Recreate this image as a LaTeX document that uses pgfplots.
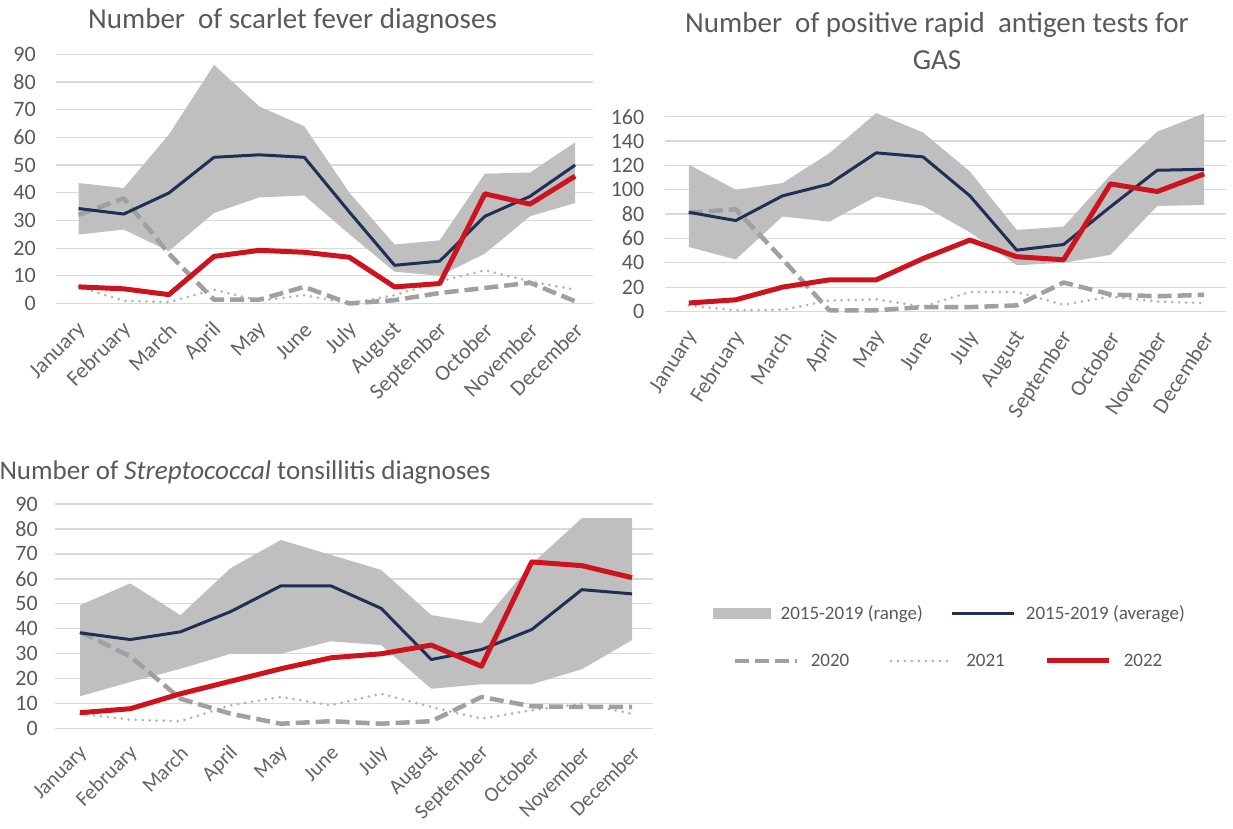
\documentclass[border=0pt]{standalone}
\usepackage{pgfplots}
\pgfplotsset{compat=1.18}
\usepackage{pgfplotstable}
\usepgfplotslibrary{fillbetween}
\usepackage{fontspec}
\setmainfont{Carlito}

\definecolor{rangegray}{RGB}{191,191,191}
\definecolor{navy}{RGB}{31,48,84}
\definecolor{redl}{RGB}{205,20,30}
\definecolor{dashgray}{RGB}{160,160,160}
\definecolor{dotgray}{RGB}{180,180,180}
\definecolor{gridgray}{RGB}{217,217,217}
\definecolor{txt}{RGB}{89,89,89}
\definecolor{lbl}{RGB}{100,100,100}

% m = month index (0 = January)
\pgfplotstableread{
m up lo avg a b c
0 43.5 24.9 34.3 32 6 6
1 41.7 26.7 32.3 38 1 5.3
2 61 18.9 39.9 18 0.5 3.2
3 86.2 32.7 52.8 1.4 5 17
4 71.2 38.3 53.7 1.4 1 19.2
5 64 39 52.8 6 3 18.5
6 40 25 33 0 0 16.7
7 21.3 11.5 13.8 1.2 3 6
8 22.8 10 15.3 3.8 8 7.2
9 46.9 18 31.5 5.6 12 39.6
10 47.3 31.5 38.7 7.5 8 35.9
11 58.2 36.3 50 0.8 5 46
}\scarlet

\pgfplotstableread{
m up lo avg a b c
0 120.7 53 81.5 81 5 7
1 100 42.7 74.7 84 1 9.6
2 105.5 78 95 43 1.4 20
3 130 73.8 104.7 1 9 26
4 163 94.5 130.3 1 10 26
5 147 86.8 127 3.6 4 43.5
6 115 65 95 3.6 16 58.7
7 67 38 50.4 5 16 45
8 69.7 40 55 23.8 5.5 42.5
9 112 46.5 86 14 12.3 104.8
10 147.7 86.7 116 12.5 8.2 98.5
11 162.7 87.5 116.8 13.7 6.8 113
}\rapid

\pgfplotstableread{
m up lo avg a b c
0 49.5 13 38.4 38.8 6 6.4
1 58.2 18.7 35.7 29 3.6 8
2 45.5 24 38.8 12 3 14
3 64.3 30 46.9 6 9.4 19
4 75.6 30 57.2 2 12.7 24
5 69.6 35 57.2 3 9.4 28.4
6 63.6 33.5 48.2 2 14 30
7 45.5 16 27.7 3 8.7 33.5
8 42.2 17.8 31.7 12.7 4 25
9 66 17.8 39.7 9 7.4 66.8
10 84.3 23.8 55.7 8.7 10 65.3
11 84.3 35.5 54 8.7 6 60.5
}\tonsil

\pgfplotsset{
  panel/.style={
    scale only axis, anchor=south west, clip=false,
    xmin=-0.5, ymin=0,
    axis line style={draw=none}, tick style={draw=none}, major tick length=0pt,
    ymajorgrids, major grid style={gridgray, line width=1.2pt},
    xtick={0,...,11},
    xticklabels={January,February,March,April,May,June,July,August,September,October,November,December},
    yticklabel style={font=\fontsize{22}{22}\selectfont, text=txt, anchor=east, inner sep=0pt},
    /pgf/number format/assume math mode=true,
  },
  rng/.style={draw=none, fill=rangegray},
  avgl/.style={navy, line width=3pt, line join=round},
  y20/.style={dashgray, line width=4.5pt, dash pattern=on 14pt off 6pt, line join=round},
  y21/.style={dotgray, line width=3pt, line cap=round, dash pattern=on 0pt off 7pt},
  y22/.style={redl, line width=5pt, line join=round},
  lineleg/.style={legend image code/.code={\draw[##1] (0pt,0pt) -- (62pt,0pt);}},
  rangeleg/.style={legend image code/.code={\fill[rangegray] (0pt,-5pt) rectangle (57pt,5pt);}},
}

\begin{document}
\begin{tikzpicture}

% ---- Chart 1
\begin{axis}[panel, at={(56pt,524.5pt)}, width=537.2pt, height=249.2pt,
  xmax=11.40, ymax=90, ytick={0,10,...,90}, yticklabel shift=20pt,
  xticklabel style={font=\fontsize{22}{22}\selectfont, text=lbl, inner sep=0pt, xshift=4pt, rotate=45, anchor=east},
  xticklabel shift=23pt]
  \addplot[name path=u1, draw=none, forget plot] table[x=m,y=up]{\scarlet};
  \addplot[name path=l1, draw=none, forget plot] table[x=m,y=lo]{\scarlet};
  \addplot[rng] fill between[of=u1 and l1];
  \addplot[y21] table[x=m,y=b]{\scarlet};
  \addplot[y20] table[x=m,y=a]{\scarlet};
  \addplot[avgl] table[x=m,y=avg]{\scarlet};
  \addplot[y22] table[x=m,y=c]{\scarlet};
\end{axis}
\node[font=\fontsize{29}{36}\selectfont, text=txt] at (292.5pt,807pt) {Number~~of scarlet fever diagnoses};

% ---- Chart 2
\begin{axis}[panel, at={(665.4pt,516.5pt)}, width=560.7pt, height=194.8pt,
  xmax=11.47, ymax=160, ytick={0,20,...,160}, yticklabel shift=21pt,
  xticklabel style={font=\fontsize{22}{22}\selectfont, text=lbl, inner sep=0pt, xshift=4pt, rotate=57, anchor=east},
  xticklabel shift=22pt]
  \addplot[name path=u2, draw=none, forget plot] table[x=m,y=up]{\rapid};
  \addplot[name path=l2, draw=none, forget plot] table[x=m,y=lo]{\rapid};
  \addplot[rng] fill between[of=u2 and l2];
  \addplot[y21] table[x=m,y=b]{\rapid};
  \addplot[y20] table[x=m,y=a]{\rapid};
  \addplot[avgl] table[x=m,y=avg]{\rapid};
  \addplot[y22] table[x=m,y=c]{\rapid};
\end{axis}
\node[font=\fontsize{29}{37}\selectfont, text=txt, align=center] at (937pt,787pt) {Number~~of positive rapid~~antigen tests for\\GAS};

% ---- Chart 3
\begin{axis}[panel, at={(55pt,99.3pt)}, width=598.1pt, height=224.7pt,
  xmax=11.42, ymax=90, ytick={0,10,...,90}, yticklabel shift=17pt,
  xticklabel style={font=\fontsize{21}{21}\selectfont, text=lbl, inner sep=0pt, xshift=4pt, rotate=45, anchor=east},
  xticklabel shift=21pt]
  \addplot[name path=u3, draw=none, forget plot] table[x=m,y=up]{\tonsil};
  \addplot[name path=l3, draw=none, forget plot] table[x=m,y=lo]{\tonsil};
  \addplot[rng] fill between[of=u3 and l3];
  \addplot[y21] table[x=m,y=b]{\tonsil};
  \addplot[y20] table[x=m,y=a]{\tonsil};
  \addplot[avgl] table[x=m,y=avg]{\tonsil};
  \addplot[y22] table[x=m,y=c]{\tonsil};
\end{axis}
\node[font=\fontsize{27}{33}\selectfont, text=txt] at (245pt,356pt) {Number of \textit{Streptococcal} tonsillitis diagnoses};

% ---- Legend row 1
\begin{axis}[at={(0pt,0pt)}, anchor=south west, scale only axis, width=1233pt, height=828pt,
  hide axis, xmin=0, xmax=1, ymin=0, ymax=1, legend columns=2,
  legend style={at={(0.5783,0.2593)}, anchor=west, draw=none, fill=none, inner sep=0pt,
    font=\fontsize{19}{19}\selectfont, text=txt,
    /tikz/every odd column/.append style={column sep=8pt},
    /tikz/every even column/.append style={column sep=26pt}}]
\addlegendimage{rangeleg}
\addlegendentry{2015-2019 (range)}
\addlegendimage{avgl, lineleg}
\addlegendentry{2015-2019 (average)}
\end{axis}

% ---- Legend row 2
\begin{axis}[at={(0pt,0pt)}, anchor=south west, scale only axis, width=1233pt, height=828pt,
  hide axis, xmin=0, xmax=1, ymin=0, ymax=1, legend columns=3,
  legend style={at={(0.5937,0.2017)}, anchor=west, draw=none, fill=none, inner sep=0pt,
    font=\fontsize{19}{19}\selectfont, text=txt,
    /tikz/every odd column/.append style={column sep=10pt},
    /tikz/every even column/.append style={column sep=38pt}}]
\addlegendimage{y20, lineleg}
\addlegendentry{2020}
\addlegendimage{y21, lineleg}
\addlegendentry{2021}
\addlegendimage{y22, lineleg}
\addlegendentry{2022}
\end{axis}

\pgfresetboundingbox
\useasboundingbox (0pt,0pt) rectangle (1233pt,828pt);
\end{tikzpicture}
\end{document}
